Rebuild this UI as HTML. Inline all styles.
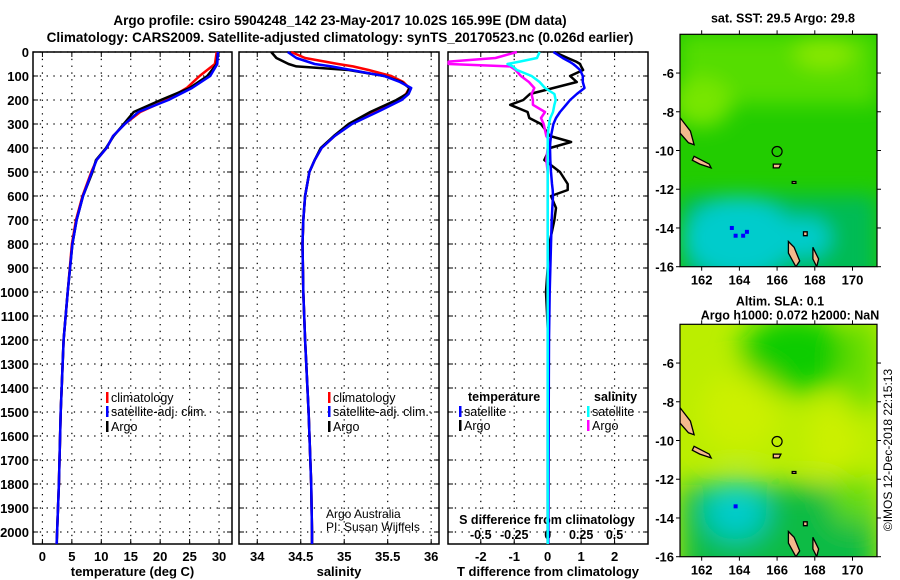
<!DOCTYPE html>
<html><head><meta charset="utf-8">
<style>
body{margin:0;background:#fff;}
svg{display:block;font-family:"Liberation Sans",sans-serif;font-weight:bold;}
</style></head>
<body>
<svg id="c" width="900" height="580" xmlns="http://www.w3.org/2000/svg">
<text x="340" y="25" font-size="13.5" text-anchor="middle">Argo profile: csiro 5904248_142 23-May-2017 10.02S 165.99E (DM data)</text>
<text x="340" y="42" font-size="13.5" text-anchor="middle">Climatology: CARS2009. Satellite-adjusted climatology: synTS_20170523.nc (0.026d earlier)</text>
<g id="p1"></g>
<g id="p2"></g>
<g id="p3"></g>
<g id="m1"></g>
<g id="m2"></g>
<text transform="translate(892,450) rotate(-90)" font-size="12" font-weight="normal" text-anchor="middle">©IMOS 12-Dec-2018 22:15:13</text>
</svg>
<script>
// ---- data ----
const depthT = [0,50,100,150,200,250,300,350,400,450,500,600,700,800,1000,1200,1500,1800,2000,2050];
const tempClim = [29.6,29.3,26.7,24.5,21.1,16.6,14.0,12.0,10.9,9.2,8.3,6.8,5.7,5.0,4.3,3.6,3.1,2.8,2.5,2.4];
const tempSat  = [29.8,29.7,28.5,25.4,21.4,16.3,14.0,12.0,10.9,9.2,8.4,6.9,5.8,5.1,4.3,3.6,3.1,2.8,2.5,2.4];
const tempArgo = [29.8,29.6,28.0,25.0,20.1,15.5,13.8,12.1,10.8,9.1,8.5,6.9,5.8,5.1,4.3,3.6,3.1,2.8,2.5,2.45];
const depthS = [0,25,50,60,75,100,125,150,175,200,250,300,350,400,450,500,600,700,800,1000,1200,1500,1800,2000,2050];
const salClim = [34.39,34.55,34.93,35.10,35.28,35.54,35.68,35.75,35.71,35.62,35.35,35.08,34.89,34.74,34.66,34.60,34.55,34.53,34.52,34.53,34.55,34.59,34.62,34.63,34.63];
const salSat  = [34.35,34.45,34.66,34.85,35.08,35.46,35.64,35.77,35.74,35.66,35.38,35.09,34.89,34.74,34.66,34.60,34.55,34.53,34.52,34.53,34.55,34.59,34.62,34.63,34.63];
const salArgo = [34.16,34.22,34.36,34.45,35.05,35.46,35.66,35.75,35.72,35.60,35.30,35.05,34.88,34.73,34.66,34.60,34.55,34.53,34.52,34.53,34.55,34.59,34.62,34.63,34.63];
const depthD = [0,25,40,50,60,75,100,125,150,175,200,220,250,275,300,350,375,400,450,500,550,575,600,650,700,800,1000,1200,1500,2000,2050];
const dTSat  = [0.17,0.45,0.65,0.76,0.85,0.97,1.05,1.05,1.10,0.87,0.67,0.55,0.37,0.25,0.17,0.10,0.08,0.07,0.08,0.10,0.13,0.15,0.16,0.14,0.12,0.10,0.06,0.04,0.03,0.02,0.02];
const dTArgo = [0.2,0.6,0.85,0.97,1.0,1.06,0.67,0.87,0.17,-0.53,-0.73,-1.12,-0.6,-0.55,-0.2,0.07,0.7,0.07,-0.1,0.37,0.6,0.6,0.1,0.25,0.2,0.05,-0.05,0.02,0.0,0.0,0.0];
const dSArgo = [-0.23,-0.39,-0.74,-0.74,-0.28,-0.24,-0.2,-0.14,-0.1,-0.12,-0.11,-0.11,-0.02,-0.05,-0.03,-0.01,0.02,0.0,-0.01,0.0,0.0,0.0,0.0,0.0,0.0,0.0,0.0,0.0,0.0,0.0,0.0];
const dSSat  = [-0.06,-0.08,-0.21,-0.30,-0.26,-0.23,-0.12,-0.06,-0.02,0.05,0.06,0.05,0.04,0.02,0.01,0.0,0.0,0.0,0.0,0.0,0.0,0.0,0.0,0.0,0.0,0.0,0.0,0.0,0.0,0.0,0.0];
const depthTicks = [0,100,200,300,400,500,600,700,800,900,1000,1100,1200,1300,1400,1500,1600,1700,1800,1900,2000];
const tempTicks = [0,5,10,15,20,25,30];
const salTicks = [34,34.5,35,35.5,36];
const salTickLabels = ["34","34.5","35","35.5","36"];
const dTTicks = [-2,-1,0,1,2];
const dSTicks = [-0.5,-0.25,0,0.25,0.5];
const dSTickLabels = ["-0.5","-0.25","0","0.25","0.5"];
const lonTicks = [162,164,166,168,170];
const latTicks = [-6,-8,-10,-12,-14,-16];

const NS="http://www.w3.org/2000/svg";
function mk(parent,tag,attrs,text){const e=document.createElementNS(NS,tag);for(const k in attrs)e.setAttribute(k,attrs[k]);if(text!==undefined)e.textContent=text;parent.appendChild(e);return e;}
const top0=52, bot0=544;
const yD = d => top0 + d*(bot0-top0)/2050;

function panel(g,x0,x1,xmin,xmax,ticks,labels,title,showY,name){
  const xs = v => x0 + (v-xmin)/(xmax-xmin)*(x1-x0);
  // grid
  depthTicks.forEach(d=>{
    const l=mk(g,'line',{x1:x0,x2:x1,y1:yD(d),y2:yD(d),stroke:'#000','stroke-width':1.2,'stroke-dasharray':'1.3 5.5'});
    
    
    mk(g,'line',{x1:x0,x2:x0+5,y1:yD(d),y2:yD(d),stroke:'#000'});
    mk(g,'line',{x1:x1-5,x2:x1,y1:yD(d),y2:yD(d),stroke:'#000'});
    if(showY){const t=mk(g,'text',{x:x0-4,y:yD(d)+5,'font-size':13,'text-anchor':'end'},String(d));
      
      }
  });
  ticks.forEach((v,i)=>{
    const l=mk(g,'line',{x1:xs(v),x2:xs(v),y1:top0,y2:bot0,stroke:'#000','stroke-width':1.2,'stroke-dasharray':'1.3 5.5'});
    
    
    mk(g,'line',{x1:xs(v),x2:xs(v),y1:bot0,y2:bot0-5,stroke:'#000'});
    mk(g,'line',{x1:xs(v),x2:xs(v),y1:top0,y2:top0+5,stroke:'#000'});
    if(labels){const t=mk(g,'text',{x:xs(v),y:561,'font-size':13,'text-anchor':'middle'},labels[i]);
      
      }
  });
  const r=mk(g,'rect',{x:x0,y:top0,width:x1-x0,height:bot0-top0,fill:'none',stroke:'#000','stroke-width':1.5});
  
  
  const t=mk(g,'text',{x:(x0+x1)/2,y:576,'font-size':13,'text-anchor':'middle'},title);
  
  
  return xs;
}
function series(g,xs,vals,depths,color,w,name){
  const pts=vals.map((v,i)=>xs(v).toFixed(1)+','+yD(depths[i]).toFixed(1)).join(' ');
  const p=mk(g,'polyline',{points:pts,fill:'none',stroke:color,'stroke-width':w,'stroke-linejoin':'round'});
  
  
}
function legend(g,x,y,color,label,name){
  mk(g,'rect',{x:x,y:y-10,width:2.5,height:11,fill:color});
  const t=mk(g,'text',{x:x+5,y:y,'font-size':12.5,'font-weight':'normal'},label);
  
  
}
// panel 1
const g1=document.getElementById('p1');
const xT=panel(g1,33,232,-1.6,32.2,tempTicks,tempTicks.map(String),'temperature (deg C)',true,'temperature-panel');
series(g1,xT,tempClim,depthT,'#f00',2.5,'temp-climatology-line');
series(g1,xT,tempArgo,depthT,'#000',2.5,'temp-argo-line');
series(g1,xT,tempSat,depthT,'#00f',2.5,'temp-satellite-line');
legend(g1,106,402,'#f00','climatology','legend-climatology');
legend(g1,106,416,'#00f','satellite-adj. clim.','legend-satellite');
legend(g1,106,431,'#000','Argo','legend-argo');
// panel 2
const g2=document.getElementById('p2');
const xS=panel(g2,239,439,33.79,36.09,salTicks,salTickLabels,'salinity',false,'salinity-panel');
series(g2,xS,salClim,depthS,'#f00',2.5,'sal-climatology-line');
series(g2,xS,salArgo,depthS,'#000',2.5,'sal-argo-line');
series(g2,xS,salSat,depthS,'#00f',2.5,'sal-satellite-line');
legend(g2,328,402,'#f00','climatology','legend-climatology-2');
legend(g2,328,416,'#00f','satellite-adj. clim.','legend-satellite-2');
legend(g2,328,431,'#000','Argo','legend-argo-2');
let t1=mk(g2,'text',{x:326,y:518,'font-size':12,'font-weight':'normal'},'Argo Australia');

let t2=mk(g2,'text',{x:326,y:531,'font-size':12,'font-weight':'normal'},'PI: Susan Wijffels');

// panel 3
const g3=document.getElementById('p3');
const xDT=panel(g3,448,648,-2.98,3.0,dTTicks,dTTicks.map(String),'T difference from climatology',false,'difference-panel');
const xDS = v => xDT(v*4);
dSTicks.forEach((v,i)=>{const t=mk(g3,'text',{x:xDS(v),y:539,'font-size':12.5,'text-anchor':'middle'},dSTickLabels[i]);
  });
let st=mk(g3,'text',{x:547,y:524,'font-size':12.5,'text-anchor':'middle'},'S difference from climatology');

series(g3,xDT,dTArgo,depthD,'#000',2.5,'dt-argo-line');
series(g3,xDS,dSArgo,depthD,'#f0f',2.5,'ds-argo-line');
series(g3,xDT,dTSat,depthD,'#00f',2.5,'dt-satellite-line');
series(g3,xDS,dSSat,depthD,'#0ff',2.5,'ds-satellite-line');
let lt=mk(g3,'text',{x:468,y:401,'font-size':12.5},'temperature');
let ls=mk(g3,'text',{x:594,y:401,'font-size':12.5},'salinity');
legend(g3,459,416,'#00f','satellite','legend-t-satellite');
legend(g3,459,430,'#000','Argo','legend-t-argo');
legend(g3,587,416,'#0ff','satellite','legend-s-satellite');
legend(g3,587,430,'#f0f','Argo','legend-s-argo');

// maps
function map(id,top,bot,kind,t1,t2){
  const g=document.getElementById(id);
  const x0=680,x1=877;
  const lx=v=>x0+(v-160.85)/(171.3-160.85)*(x1-x0);
  const ly=v=>top+(-4-v)/12*(bot-top);
  const cid='clip'+id;
  const cp=mk(g,'clipPath',{id:cid});mk(cp,'rect',{x:x0,y:top,width:x1-x0,height:bot-top});
  const gg=mk(g,'g',{'clip-path':'url(#'+cid+')'});
  const defs=mk(g,'defs',{});
  const bl=mk(defs,'filter',{id:'bl'+id});mk(bl,'feGaussianBlur',{stdDeviation:kind==1?10:14});
  if(kind==1){
    mk(gg,'rect',{x:x0,y:top,width:x1-x0,height:bot-top,fill:'#22cc00'});
    const b=mk(gg,'g',{filter:'url(#bl'+id+')'});
    mk(b,'rect',{x:x0,y:top,width:x1-x0,height:70,fill:'#55dd00'});
    mk(b,'ellipse',{cx:lx(162),cy:ly(-7.5),rx:30,ry:25,fill:'#77e600'});
    mk(b,'ellipse',{cx:lx(168.5),cy:ly(-5),rx:30,ry:15,fill:'#88e800'});
    mk(b,'rect',{x:x0,y:ly(-12.3),width:x1-x0,height:100,fill:'#00bb55'});
    mk(b,'ellipse',{cx:lx(164),cy:ly(-14.5),rx:55,ry:40,fill:'#00cccc'});
    mk(b,'ellipse',{cx:lx(167.5),cy:ly(-14.5),rx:25,ry:20,fill:'#00cccc'});
    [[163.6,-14],[163.8,-14.4],[164.2,-14.4],[164.4,-14.2]].forEach(p=>mk(gg,'rect',{x:lx(p[0])-2,y:ly(p[1])-2,width:4,height:4,fill:'#00f'}));
  } else {
    mk(gg,'rect',{x:x0,y:top,width:x1-x0,height:bot-top,fill:'#bbee00'});
    const b=mk(gg,'g',{filter:'url(#bl'+id+')'});
    mk(b,'ellipse',{cx:lx(167),cy:ly(-5.5),rx:55,ry:40,fill:'#11cc00'});
    mk(b,'ellipse',{cx:lx(170.5),cy:ly(-6),rx:20,ry:50,fill:'#66dd00'});
    mk(b,'ellipse',{cx:lx(164),cy:ly(-8.5),rx:40,ry:40,fill:'#ccf000'});
    mk(b,'ellipse',{cx:lx(169),cy:ly(-10),rx:25,ry:40,fill:'#ccf000'});
    mk(b,'rect',{x:x0,y:ly(-12.3),width:x1-x0,height:110,fill:'#11bb44'});
    mk(b,'ellipse',{cx:lx(170),cy:ly(-13),rx:20,ry:25,fill:'#66dd00'});
    mk(b,'ellipse',{cx:lx(163.8),cy:ly(-13.6),rx:32,ry:30,fill:'#00cccc'});
    mk(gg,'rect',{x:lx(163.8)-2,y:ly(-13.4)-2,width:4,height:4,fill:'#00f'});
  }
  const isl=[[[160.85,-8.3],[161.4,-9.0],[161.6,-9.7],[161.3,-9.6],[160.85,-9.1]],
    [[161.6,-10.3],[162.4,-10.7],[162.5,-10.9],[161.9,-10.7],[161.5,-10.5]],
    [[165.8,-10.7],[166.2,-10.7],[166.1,-10.9],[165.8,-10.9]],
    [[166.6,-14.7],[166.9,-15.0],[167.2,-15.7],[167.0,-16],[166.6,-15.3]],
    [[167.9,-15.0],[168.2,-15.6],[168.1,-16],[167.9,-15.6]],
    [[167.4,-14.2],[167.6,-14.2],[167.6,-14.4],[167.4,-14.4]],
    [[166.8,-11.6],[167.0,-11.6],[167.0,-11.7],[166.8,-11.7]]];
  isl.forEach(p=>{const s=mk(gg,'polygon',{points:p.map(q=>lx(q[0]).toFixed(1)+','+ly(q[1]).toFixed(1)).join(' '),fill:'#f4b98c',stroke:'#000','stroke-width':1.3});
    });
  const c=mk(g,'circle',{cx:lx(166),cy:ly(-10.05),r:5,fill:'none',stroke:'#000','stroke-width':1.2});
  
  mk(g,'rect',{x:x0,y:top,width:x1-x0,height:bot-top,fill:'none',stroke:'#000','stroke-width':1.2});
  lonTicks.forEach(v=>{mk(g,'line',{x1:lx(v),x2:lx(v),y1:bot,y2:bot+4,stroke:'#000'});mk(g,'line',{x1:lx(v),x2:lx(v),y1:top,y2:top-4,stroke:'#000'});
    const t=mk(g,'text',{x:lx(v),y:bot+18,'font-size':13,'text-anchor':'middle'},String(v));
    });
  latTicks.forEach(v=>{mk(g,'line',{x1:x0-4,x2:x0,y1:ly(v),y2:ly(v),stroke:'#000'});mk(g,'line',{x1:x1,x2:x1+4,y1:ly(v),y2:ly(v),stroke:'#000'});
    const t=mk(g,'text',{x:x0-6,y:ly(v)+5,'font-size':13,'text-anchor':'end'},String(v));
    });
  if(t2){const a=mk(g,'text',{x:780,y:top-19,'font-size':12.5,'text-anchor':'middle'},t1);
    const b=mk(g,'text',{x:790,y:top-5,'font-size':12.5,'text-anchor':'middle'},t2);}
  else{const a=mk(g,'text',{x:783,y:top-12,'font-size':12.5,'text-anchor':'middle'},t1);}
}
map('m1',34.3,266.7,1,'sat. SST: 29.5 Argo: 29.8',null);
map('m2',324.3,556.7,2,'Altim. SLA: 0.1','Argo h1000: 0.072 h2000: NaN');
</script>
</body></html>
